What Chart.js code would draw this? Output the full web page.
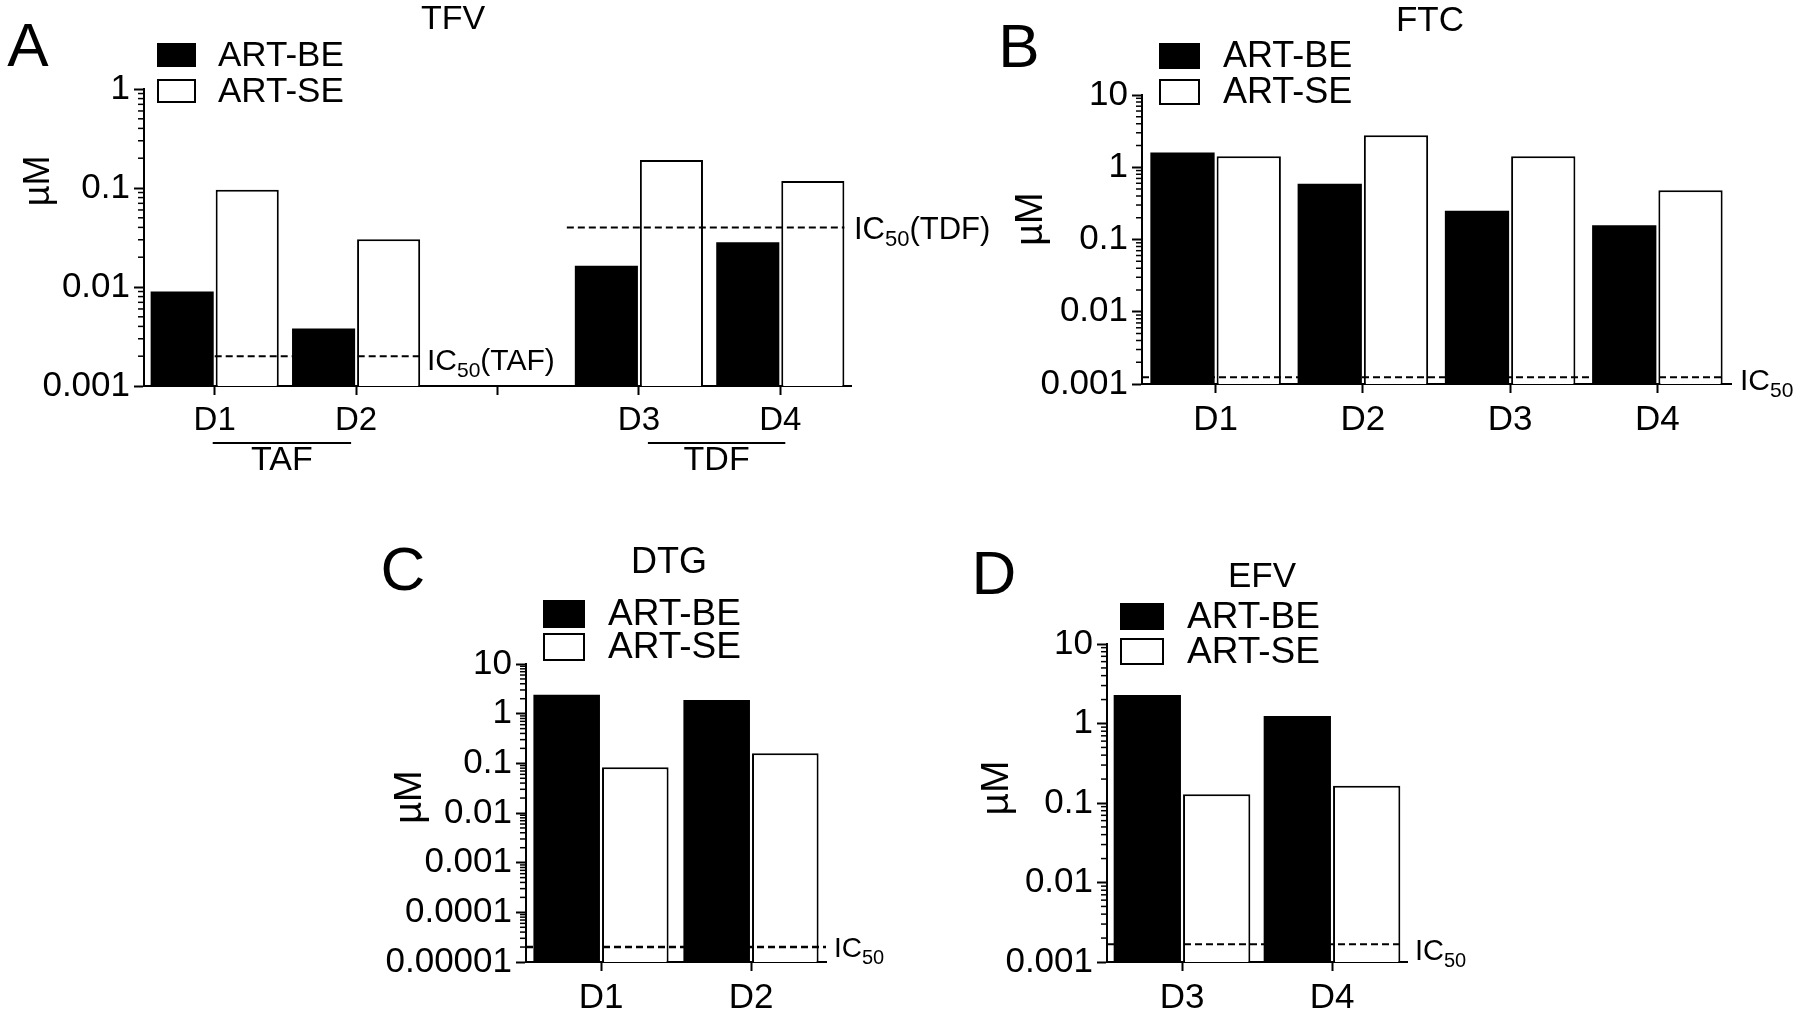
<!DOCTYPE html>
<html>
<head>
<meta charset="utf-8">
<title>TFV / FTC / DTG / EFV concentrations</title>
<script src="https://cdn.jsdelivr.net/npm/chart.js@4.4.1/dist/chart.umd.min.js"></script>
<style>
  html, body { margin: 0; padding: 0; background: #fff; }
  #wrap { position: relative; width: 1800px; height: 1016px; overflow: hidden; }
  #wrap canvas { position: absolute; left: 0; top: 0; }
</style>
</head>
<body>
<div id="wrap">
  <canvas id="chartA" width="1800" height="1016"></canvas>
  <canvas id="chartB" width="1800" height="1016"></canvas>
  <canvas id="chartC" width="1800" height="1016"></canvas>
  <canvas id="chartD" width="1800" height="1016"></canvas>
</div>
<script>
// data (µM)
const seriesNames = ['ART-BE', 'ART-SE'];

const catsA = ['D1', 'D2', '', 'D3', 'D4'];
const beA = [0.009, 0.0038, null, 0.0164, 0.0283];
const seA = [0.096, 0.0303, null, 0.192, 0.118];
const ic50TAF = 0.002;
const ic50TDF = 0.04;
const yTicksA = [0.001, 0.01, 0.1, 1];

const catsB = ['D1', 'D2', 'D3', 'D4'];
const beB = [1.6, 0.59, 0.25, 0.158];
const seB = [1.42, 2.78, 1.42, 0.48];
const ic50FTC = 0.00124;
const yTicksB = [0.001, 0.01, 0.1, 1, 10];

const catsC = ['D1', 'D2'];
const beC = [2.4, 1.89];
const seC = [0.083, 0.159];
const ic50DTG = 0.00002;
const yTicksC = [0.00001, 0.0001, 0.001, 0.01, 0.1, 1, 10];

const catsD = ['D3', 'D4'];
const beD = [2.29, 1.24];
const seD = [0.129, 0.165];
const ic50EFV = 0.00167;
const yTicksD = [0.001, 0.01, 0.1, 1, 10];

const FONT = '"Liberation Sans", Arial, sans-serif';
const X_H = 50;    // fixed x axis box height

function txt(ctx, s, x, y, size, align) {
    ctx.font = size + 'px ' + FONT;
    ctx.textAlign = align || 'center';
    ctx.textBaseline = 'middle';
    ctx.fillText(s, x, y);
}

// "IC" + subscript 50 (+ optional suffix), x = left, base = baseline
function icLabel(ctx, x, base, size, suffix) {
    ctx.textAlign = 'left';
    ctx.textBaseline = 'alphabetic';
    ctx.font = size + 'px ' + FONT;
    ctx.fillText('IC', x, base);
    x += ctx.measureText('IC').width;
    ctx.font = Math.round(size * 0.7) + 'px ' + FONT;
    ctx.fillText('50', x, base + size * 0.24);
    x += ctx.measureText('50').width;
    if (suffix) {
        ctx.font = size + 'px ' + FONT;
        ctx.fillText(suffix, x, base);
    }
}

function barLeft(chart, ds, i) {
    const el = chart.getDatasetMeta(ds).data[i];
    return el.x - el.width / 2;
}
function barRight(chart, ds, i) {
    const el = chart.getDatasetMeta(ds).data[i];
    return el.x + el.width / 2;
}

function decorPlugin(d) {
    return {
        id: 'decor',
        afterDatasetsDraw(chart) {
            const ctx = chart.ctx;
            const y = chart.scales.y;
            ctx.save();
            ctx.strokeStyle = '#000';
            ctx.lineWidth = d.dashWidth || 2;
            ctx.setLineDash([7, 4]);
            d.lines.forEach(l => {
                const py = y.getPixelForValue(l.value);
                ctx.beginPath();
                ctx.moveTo(l.from(chart), py);
                ctx.lineTo(l.to(chart), py);
                ctx.stroke();
            });
            ctx.restore();
        },
        afterDraw(chart) {
            const ctx = chart.ctx;
            const y = chart.scales.y;
            const x = chart.scales.x;
            ctx.save();
            ctx.fillStyle = '#000';
            ctx.strokeStyle = '#000';

            // minor log ticks
            ctx.lineWidth = 1.5;
            const decades = d.ticks;
            for (let i = 0; i < decades.length - 1; i++) {
                for (let k = 2; k < 10; k++) {
                    const py = y.getPixelForValue(k * decades[i]);
                    ctx.beginPath();
                    ctx.moveTo(y.right - 6, py);
                    ctx.lineTo(y.right, py);
                    ctx.stroke();
                }
            }

            // panel letter, title, axis title
            txt(ctx, d.letter.text, d.letter.x, d.letter.y, d.letter.size);
            txt(ctx, d.title.text, d.title.x, d.title.y, d.title.size);
            ctx.save();
            ctx.translate(d.yTitle.x, d.yTitle.y);
            ctx.rotate(-Math.PI / 2);
            txt(ctx, 'µM', 0, 0, d.yTitle.size);
            ctx.restore();

            // legend
            const lg = d.legend;
            chart.data.datasets.forEach((ds, i) => {
                const top = lg.y + i * lg.step;
                ctx.fillStyle = ds.backgroundColor;
                ctx.fillRect(lg.x, top, lg.w, lg.h);
                ctx.lineWidth = 2;
                ctx.strokeRect(lg.x + 1, top + 1, lg.w - 2, lg.h - 2);
                ctx.fillStyle = '#000';
                txt(ctx, ds.label, lg.tx, top + lg.h / 2 + 1, lg.size, 'left');
            });

            // IC50 labels
            d.lines.forEach(l => icLabel(ctx, l.lx, l.lbase, l.lsize, l.suffix));

            // group brackets (panel A)
            (d.groups || []).forEach(g => {
                const x1 = x.getPixelForValue(g.a) + g.da;
                const x2 = x.getPixelForValue(g.b) + g.db;
                ctx.lineWidth = 2;
                ctx.beginPath();
                ctx.moveTo(x1, g.y);
                ctx.lineTo(x2, g.y);
                ctx.stroke();
                txt(ctx, g.text, (x1 + x2) / 2, g.ty, g.size);
            });
            ctx.restore();
        }
    };
}

function makeChart(id, cats, be, se, yTicks, area, catPct, fontX, decor) {
    decor.ticks = yTicks;
    const yW = area.yW;
    return new Chart(document.getElementById(id), {
        type: 'bar',
        data: {
            labels: cats,
            datasets: [
                { label: seriesNames[0], data: be, backgroundColor: '#000', borderColor: '#000', borderWidth: 0,
                  categoryPercentage: catPct, barPercentage: 0.97 },
                { label: seriesNames[1], data: se, backgroundColor: '#fff', borderColor: '#000', borderWidth: 2,
                  categoryPercentage: catPct, barPercentage: 0.97 }
            ]
        },
        options: {
            responsive: false,
            animation: false,
            events: [],
            layout: {
                padding: { left: area.left - yW, right: 1800 - area.right, top: area.top, bottom: 1016 - area.bottom - X_H }
            },
            plugins: { legend: { display: false }, tooltip: { enabled: false } },
            scales: {
                x: {
                    grid: { drawOnChartArea: false, offset: false, tickLength: 9, tickWidth: 2, tickColor: '#000' },
                    border: { color: '#000', width: 2 },
                    ticks: { color: '#000', font: { family: FONT, size: fontX }, padding: 6, maxRotation: 0, autoSkip: false },
                    afterFit: s => { s.height = X_H; }
                },
                y: {
                    type: 'logarithmic',
                    min: yTicks[0],
                    max: yTicks[yTicks.length - 1],
                    afterBuildTicks: s => { s.ticks = yTicks.map(v => ({ value: v })); },
                    grid: { drawOnChartArea: false, tickLength: 10, tickWidth: 2, tickColor: '#000' },
                    border: { color: '#000', width: 2 },
                    ticks: { color: '#000', font: { family: FONT, size: 35 }, padding: 4, autoSkip: false,
                             callback: v => String(v) },
                    afterFit: s => { s.width = yW; }
                }
            }
        },
        plugins: [decorPlugin(decor)]
    });
}

// A - TFV
makeChart('chartA', catsA, beA, seA, yTicksA, { left: 144, right: 851, top: 89, bottom: 386, yW: 130 }, 0.92, 33, {
    letter: { text: 'A', x: 28, y: 49, size: 62 },
    title: { text: 'TFV', x: 453, y: 20, size: 34 },
    yTitle: { x: 39, y: 181, size: 36 },
    legend: { x: 157, y: 43, w: 39, h: 24, step: 36, tx: 218, size: 35 },
    lines: [
        { value: ic50TAF, from: c => c.scales.x.getPixelForValue(0), to: c => barRight(c, 1, 1),
          lx: 427, lbase: 370, lsize: 30, suffix: '(TAF)' },
        { value: ic50TDF, from: c => barLeft(c, 0, 3) - 8, to: c => barRight(c, 1, 4),
          lx: 854, lbase: 239, lsize: 31, suffix: '(TDF)' }
    ],
    groups: [
        { a: 0, b: 1, da: -2, db: -5, y: 443, text: 'TAF', ty: 461, size: 34 },
        { a: 3, b: 4, da: 9, db: 5, y: 443, text: 'TDF', ty: 461, size: 34 }
    ]
});

// B - FTC
makeChart('chartB', catsB, beB, seB, yTicksB, { left: 1142, right: 1731, top: 95, bottom: 384, yW: 130 }, 0.9, 35, {
    letter: { text: 'B', x: 1019, y: 50, size: 62 },
    title: { text: 'FTC', x: 1430, y: 21, size: 35 },
    yTitle: { x: 1032, y: 219, size: 38 },
    legend: { x: 1159, y: 43, w: 41, h: 26, step: 36, tx: 1223, size: 36 },
    lines: [
        { value: ic50FTC, from: c => c.chartArea.left, to: c => c.chartArea.right - 6,
          lx: 1740, lbase: 390, lsize: 30 }
    ]
});

// C - DTG
makeChart('chartC', catsC, beC, seC, yTicksC, { left: 526, right: 826, top: 664, bottom: 962, yW: 190 }, 0.915, 35, {
    letter: { text: 'C', x: 403, y: 573, size: 62 },
    title: { text: 'DTG', x: 669, y: 563, size: 36 },
    yTitle: { x: 411, y: 797, size: 38 },
    legend: { x: 543, y: 600, w: 42, h: 28, step: 33, tx: 608, size: 37 },
    dashWidth: 2.5,
    lines: [
        { value: ic50DTG, from: c => c.chartArea.left, to: c => c.chartArea.right,
          lx: 834, lbase: 957, lsize: 28 }
    ]
});

// D - EFV
makeChart('chartD', catsD, beD, seD, yTicksD, { left: 1107, right: 1407, top: 644, bottom: 962, yW: 150 }, 0.925, 35, {
    letter: { text: 'D', x: 994, y: 577, size: 62 },
    title: { text: 'EFV', x: 1262, y: 577, size: 35 },
    yTitle: { x: 997, y: 788, size: 39 },
    legend: { x: 1120, y: 603, w: 44, h: 27, step: 35, tx: 1187, size: 37 },
    lines: [
        { value: ic50EFV, from: c => c.chartArea.left, to: c => barRight(c, 1, 1),
          lx: 1415, lbase: 960, lsize: 29 }
    ]
});
</script>
</body>
</html>
